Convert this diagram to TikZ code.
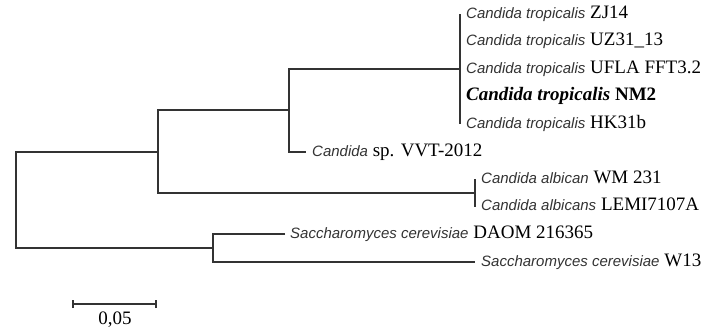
\documentclass[tikz,border=0pt]{standalone}
\usepackage{fontspec}
\setmainfont{Liberation Serif}
\newfontfamily\sansit{Liberation Sans}
\newcommand{\spname}[1]{{\sansit\itshape\fontsize{15bp}{17bp}\selectfont\color{black!80}#1}}
\begin{document}
\begin{tikzpicture}[x=1bp,y=-1bp,
  branch/.style={draw=black!80,line width=1.2bp},
  leaf/.style={anchor=west,inner sep=0pt,text height=12bp,text depth=3bp,font=\fontsize{19bp}{21bp}\selectfont}]
\fill[white] (0,0) rectangle (709,333);
\useasboundingbox (0,0) rectangle (709,333);
% internal nodes
\coordinate (root) at (16,200);
\coordinate (n1) at (158,152);
\coordinate (n2) at (289,110);
\coordinate (trop) at (460,69);
\coordinate (alb) at (475,193);
\coordinate (sac) at (213,248);
% leaf ends
\coordinate (t1) at (460,14);
\coordinate (t5) at (460,124);
\coordinate (a1) at (475,179);
\coordinate (a2) at (475,207);
\coordinate (csp) at (306,152);
\coordinate (s1) at (285,234);
\coordinate (s2) at (475,262);
% branches
\path[branch] (n1) -| (root) |- (sac);
\path[branch] (n2) -| (n1) |- (alb);
\path[branch] (trop) -| (n2) |- (csp);
\path[branch] (t1) -- (t5);
\path[branch] (a1) -- (a2);
\path[branch] (s1) -| (sac) |- (s2);
% labels
\node[leaf] (L1) at (466,14) {\spname{Candida tropicalis} ZJ14};
\node[leaf] (L2) at (466,41) {\spname{Candida tropicalis} UZ31\_13};
\node[leaf] (L3) at (466,69) {\spname{Candida tropicalis} UFLA FFT3.2};
\node[leaf] (L4) at (466,96) {\textbf{\textit{Candida tropicalis} NM2}};
\node[leaf] (L5) at (466,124) {\spname{Candida tropicalis} HK31b};
\node[leaf] (L6) at (312,152) {\spname{Candida} sp. VVT-2012};
\node[leaf] (L7) at (481,179) {\spname{Candida albican} WM 231};
\node[leaf] (L8) at (481,206) {\spname{Candida albicans} LEMI7107A};
\node[leaf] (L9) at (290,234) {\spname{Saccharomyces cerevisiae} DAOM 216365};
\node[leaf] (L10) at (481,262) {\spname{Saccharomyces cerevisiae} W13};
% scale bar
\coordinate (b1) at (73,304);
\coordinate (b2) at (156,304);
\path[branch] (b1) -- (b2);
\path[branch] ([yshift=-4bp]b1) -- ([yshift=4bp]b1);
\path[branch] ([yshift=-4bp]b2) -- ([yshift=4bp]b2);
\node[font=\fontsize{19bp}{21bp}\selectfont,inner sep=0pt] (sc) at (115,320) {0,05};
\end{tikzpicture}
\end{document}
